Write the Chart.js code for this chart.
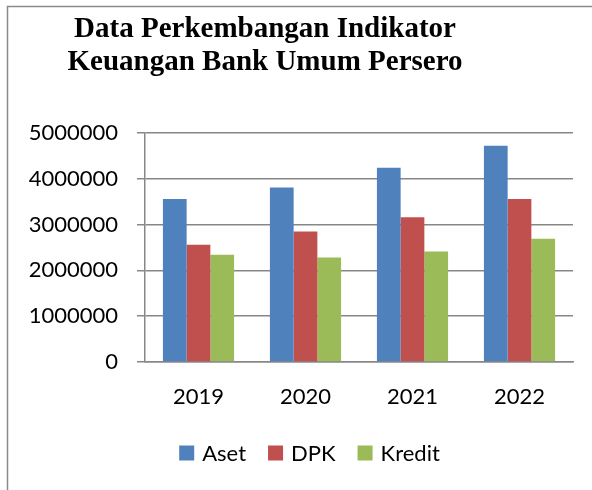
<!DOCTYPE html>
<html>
<head>
<meta charset="utf-8">
<script src="https://cdn.jsdelivr.net/npm/chart.js@4"></script>
<style>
  html, body { margin: 0; padding: 0; background: #fff; }
  #wrap { width: 592px; height: 490px; position: relative; }
</style>
</head>
<body>
<div id="wrap"><canvas id="c" width="592" height="490"></canvas></div>
<script>
const titleLines = ["Data Perkembangan Indikator", "Keuangan Bank Umum Persero"];
const categories = ["2019", "2020", "2021", "2022"];
const seriesNames = ["Aset", "DPK", "Kredit"];
const aset   = [3560000, 3810000, 4240000, 4720000];
const dpk    = [2560000, 2850000, 3160000, 3560000];
const kredit = [2340000, 2280000, 2410000, 2690000];
const yTicks = [0, 1000000, 2000000, 3000000, 4000000, 5000000];
const colors = ["#4F81BD", "#C0504D", "#9BBB59"];

const TICK_FONT = "Lato";
const GRID = "#878787";

const decor = {
  id: "decor",
  beforeDraw(chart) {
    const ctx = chart.ctx;
    ctx.save();
    ctx.fillStyle = "#fff";
    ctx.fillRect(0, 0, chart.width, chart.height);
    ctx.strokeStyle = "#8a8a8a";
    ctx.lineWidth = 1.5;
    ctx.beginPath();
    ctx.moveTo(7.5, 490);
    ctx.lineTo(7.5, 6.5);
    ctx.lineTo(592, 6.5);
    ctx.stroke();
    ctx.restore();
  },
  afterDraw(chart) {
    const ctx = chart.ctx;
    ctx.save();
    // title
    ctx.fillStyle = "#000";
    ctx.font = "bold 29px 'Liberation Serif'";
    ctx.textAlign = "center";
    ctx.textBaseline = "alphabetic";
    ctx.fillText(titleLines[0], 265, 37);
    ctx.fillText(titleLines[1], 265, 70);
    // legend
    ctx.font = "22px " + TICK_FONT;
    ctx.textAlign = "left";
    ctx.textBaseline = "middle";
    const box = 15, gap = 8, spacing = 22;
    const items = chart.data.datasets.map(d => ({ label: d.label, color: d.backgroundColor, w: box + gap + ctx.measureText(d.label).width }));
    const total = items.reduce((s, it) => s + it.w, 0) + spacing * (items.length - 1);
    let x = 309.5 - total / 2;
    const cy = 453;
    items.forEach(it => {
      ctx.fillStyle = it.color;
      ctx.fillRect(x, cy - box / 2, box, box);
      ctx.fillStyle = "#000";
      ctx.fillText(it.label, x + box + gap, cy + 1);
      x += it.w + spacing;
    });
    ctx.restore();
  }
};

new Chart(document.getElementById("c"), {
  type: "bar",
  data: {
    labels: categories,
    datasets: [
      { label: seriesNames[0], data: aset, backgroundColor: colors[0] },
      { label: seriesNames[1], data: dpk, backgroundColor: colors[1] },
      { label: seriesNames[2], data: kredit, backgroundColor: colors[2] }
    ]
  },
  options: {
    responsive: false,
    animation: false,
    devicePixelRatio: 1,
    layout: { padding: { top: 133, right: 19, left: 0, bottom: 0 } },
    datasets: { bar: { categoryPercentage: 0.665, barPercentage: 1.0, borderWidth: 0 } },
    plugins: { legend: { display: false }, title: { display: false }, tooltip: { enabled: false } },
    scales: {
      x: {
        grid: { display: false, drawTicks: false },
        border: { display: true, color: GRID, width: 1.5 },
        ticks: { color: "#000", font: { family: TICK_FONT, size: 22 }, padding: 22, maxRotation: 0 },
        afterFit(s) { s.height = 128; }
      },
      y: {
        min: 0, max: 5000000,
        afterBuildTicks(s) { s.ticks = yTicks.map(v => ({ value: v })); },
        grid: { color: GRID, lineWidth: 1.5, tickLength: 8, drawTicks: true },
        border: { display: true, color: GRID, width: 1.5 },
        ticks: { color: "#000", font: { family: TICK_FONT, size: 22 }, padding: 19, callback: v => String(v) },
        afterFit(s) { s.width = 145; }
      }
    }
  },
  plugins: [decor]
});
</script>
</body>
</html>
